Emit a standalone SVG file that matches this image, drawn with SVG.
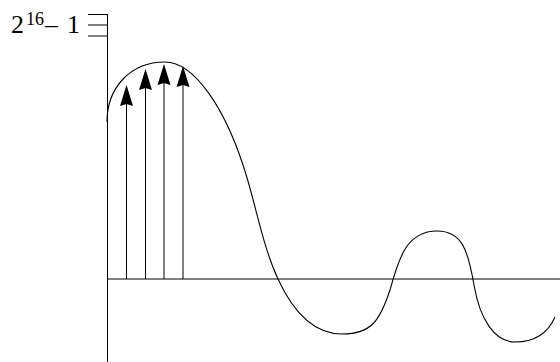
<svg xmlns="http://www.w3.org/2000/svg" width="560" height="362" viewBox="0 0 560 362">
<style>
.ax{stroke:#000;stroke-width:1;fill:none}
.cv{stroke:#000;stroke-width:1.1;fill:none}
.ar{stroke:#000;stroke-width:1;fill:none}
.hd{fill:#000;stroke:none}
.lb{font-family:"Liberation Serif","Times New Roman",serif;fill:#000}
</style>
<defs>
<path id="head" class="hd" d="M0,0 L-6.5,21 L0,19 L6.5,21 Z"/>
</defs>
<rect width="560" height="362" fill="#fff"/>
<g id="axes">
<line class="ax" x1="107.5" y1="14" x2="107.5" y2="362"/>
<line class="ax" x1="107" y1="279" x2="560" y2="279"/>
<line class="ax" x1="88" y1="14.5" x2="108" y2="14.5"/>
<line class="ax" x1="88" y1="25" x2="108" y2="25"/>
<line class="ax" x1="88" y1="36" x2="108" y2="36"/>
</g>
<g id="label">
<text class="lb" font-family="Liberation Serif, serif" font-size="26"><tspan x="11" y="33">2</tspan><tspan x="26" y="25" font-size="18">16</tspan><tspan x="45" y="33">–</tspan><tspan x="67" y="33">1</tspan></text>
</g>
<g id="curve">
<path class="cv" d="M107,122 C107,88 130,62 165,62 C195,62 225,110 243,165 C255,200 262,245 278,279 C290,305 310,334 342,334 C372,334 380,320 390,290 C398,262 405,231 437,231 C462,231 468,250 474,285 C480,320 495,342 515,342 C535,342 548,333 555,317"/>
</g>
<g id="arrows">
<line class="ar" x1="126.5" y1="279" x2="126.5" y2="100"/>
<use href="#head" x="126.5" y="85"/>
<line class="ar" x1="145.5" y1="279" x2="145.5" y2="84"/>
<use href="#head" x="145.5" y="69"/>
<line class="ar" x1="164" y1="279" x2="164" y2="80"/>
<use href="#head" x="164" y="64"/>
<line class="ar" x1="183" y1="279" x2="183" y2="82"/>
<use href="#head" x="183" y="66"/>
</g>
</svg>
